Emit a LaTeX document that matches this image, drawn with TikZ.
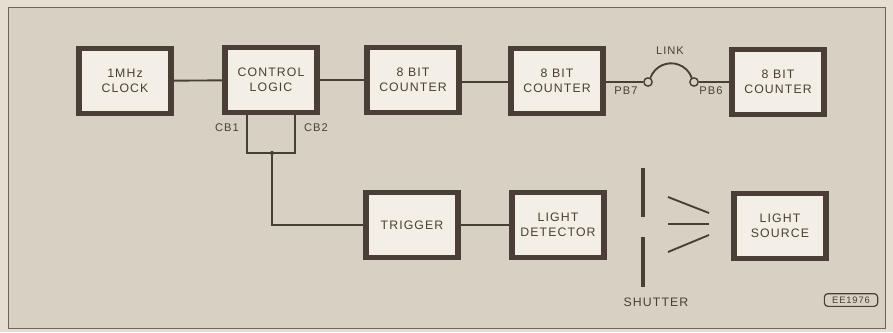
\documentclass[tikz,border=0pt]{standalone}
\usepackage{fontspec}
\setmainfont[LetterSpace=9]{Liberation Sans}
\definecolor{paper}{HTML}{E6DFD1}
\definecolor{panel}{HTML}{D7D1C4}
\definecolor{boxfill}{HTML}{F3EFE6}
\definecolor{ink}{HTML}{4B3E36}

\tikzstyle{every node}=[text=ink, font={\fontsize{10.5}{12.5}\selectfont}, align=center, inner sep=1pt]
\tikzstyle{block}=[draw=ink, line width=5pt, fill=boxfill, minimum width=2.75cm, minimum height=1.95cm]
\tikzstyle{wire}=[draw=ink, line width=1.6pt]
\tikzstyle{port}=[circle, draw=ink, line width=1.2pt, fill=panel, minimum size=0.25cm, inner sep=0pt]
\tikzstyle{pin}=[font={\fontsize{9.5}{11}\selectfont}]

\begin{document}
\begin{tikzpicture}[x=0.03cm, y=-0.03cm]
    \useasboundingbox (0,0) rectangle (893,332);
    \fill[paper] (0,0) rectangle (893,332);
    \filldraw[fill=panel, draw=ink!80, line width=0.8pt] (8,7) rectangle (885,328);

    % top row
    \node [block] (clock) at (125,81) {1MHz\\CLOCK};
    \node [block] (ctrl) at (271,80) {CONTROL\\LOGIC};
    \node [block] (cnta) at (413,80) {8 BIT\\COUNTER};
    \node [block] (cntb) at (557,81) {8 BIT\\COUNTER};
    \node [block] (cntc) at (778,82) {8 BIT\\COUNTER};

    % bottom row
    \node [block] (trig) at (412,225) {TRIGGER};
    \node [block] (det) at (558,225) {LIGHT\\DETECTOR};
    \node [block] (src) at (780,226) {LIGHT\\SOURCE};

    \draw [wire] (clock) -- (ctrl);
    \draw [wire] (ctrl) -- (cnta);
    \draw [wire] (cnta.east |- 0,82) -- (cntb.west |- 0,82);

    % link between the counters
    \node [port] (pb7) at (648,82) {};
    \node [port] (pb6) at (694,82) {};
    \draw [wire] (cntb.east |- pb7) -- (pb7);
    \draw [wire] (pb6) -- (cntc.west |- pb6);
    \draw [wire] (pb7.60) arc[start angle=160, end angle=20, radius=0.66cm];
    \node [pin] at (626,91) {PB7};
    \node [pin] at (711,91) {PB6};
    \node [pin] at (670,51) {LINK};

    % CB1/CB2 loop
    \coordinate (cbl) at (247,153);
    \coordinate (cbr) at (295,153);
    \coordinate (tap) at (272,153);
    \draw [wire] (ctrl.south -| cbl) -- (cbl) -- (cbr) -- (ctrl.south -| cbr);
    \fill [ink] (tap) circle (1.8pt);
    \draw [wire] (tap) |- (trig.west);
    \draw [wire] (trig) -- (det);
    \node [pin] at (227,128) {CB1};
    \node [pin] at (316,128) {CB2};

    % shutter and rays
    \draw [ink, line width=2.6pt] (643,168) -- (643,217);
    \draw [ink, line width=2.6pt] (643,237) -- (643,287);
    \node at (656,302) {SHUTTER};
    \draw [wire] (668,197) -- (709,213);
    \draw [wire] (668,224) -- (709,224);
    \draw [wire] (668,252) -- (709,235);

    \node [draw=ink, line width=1pt, rounded corners=3pt, minimum width=1.6cm, minimum height=0.38cm, font={\fontsize{8}{9}\selectfont}] (tag) at (851,300) {EE1976};
\end{tikzpicture}
\end{document}
